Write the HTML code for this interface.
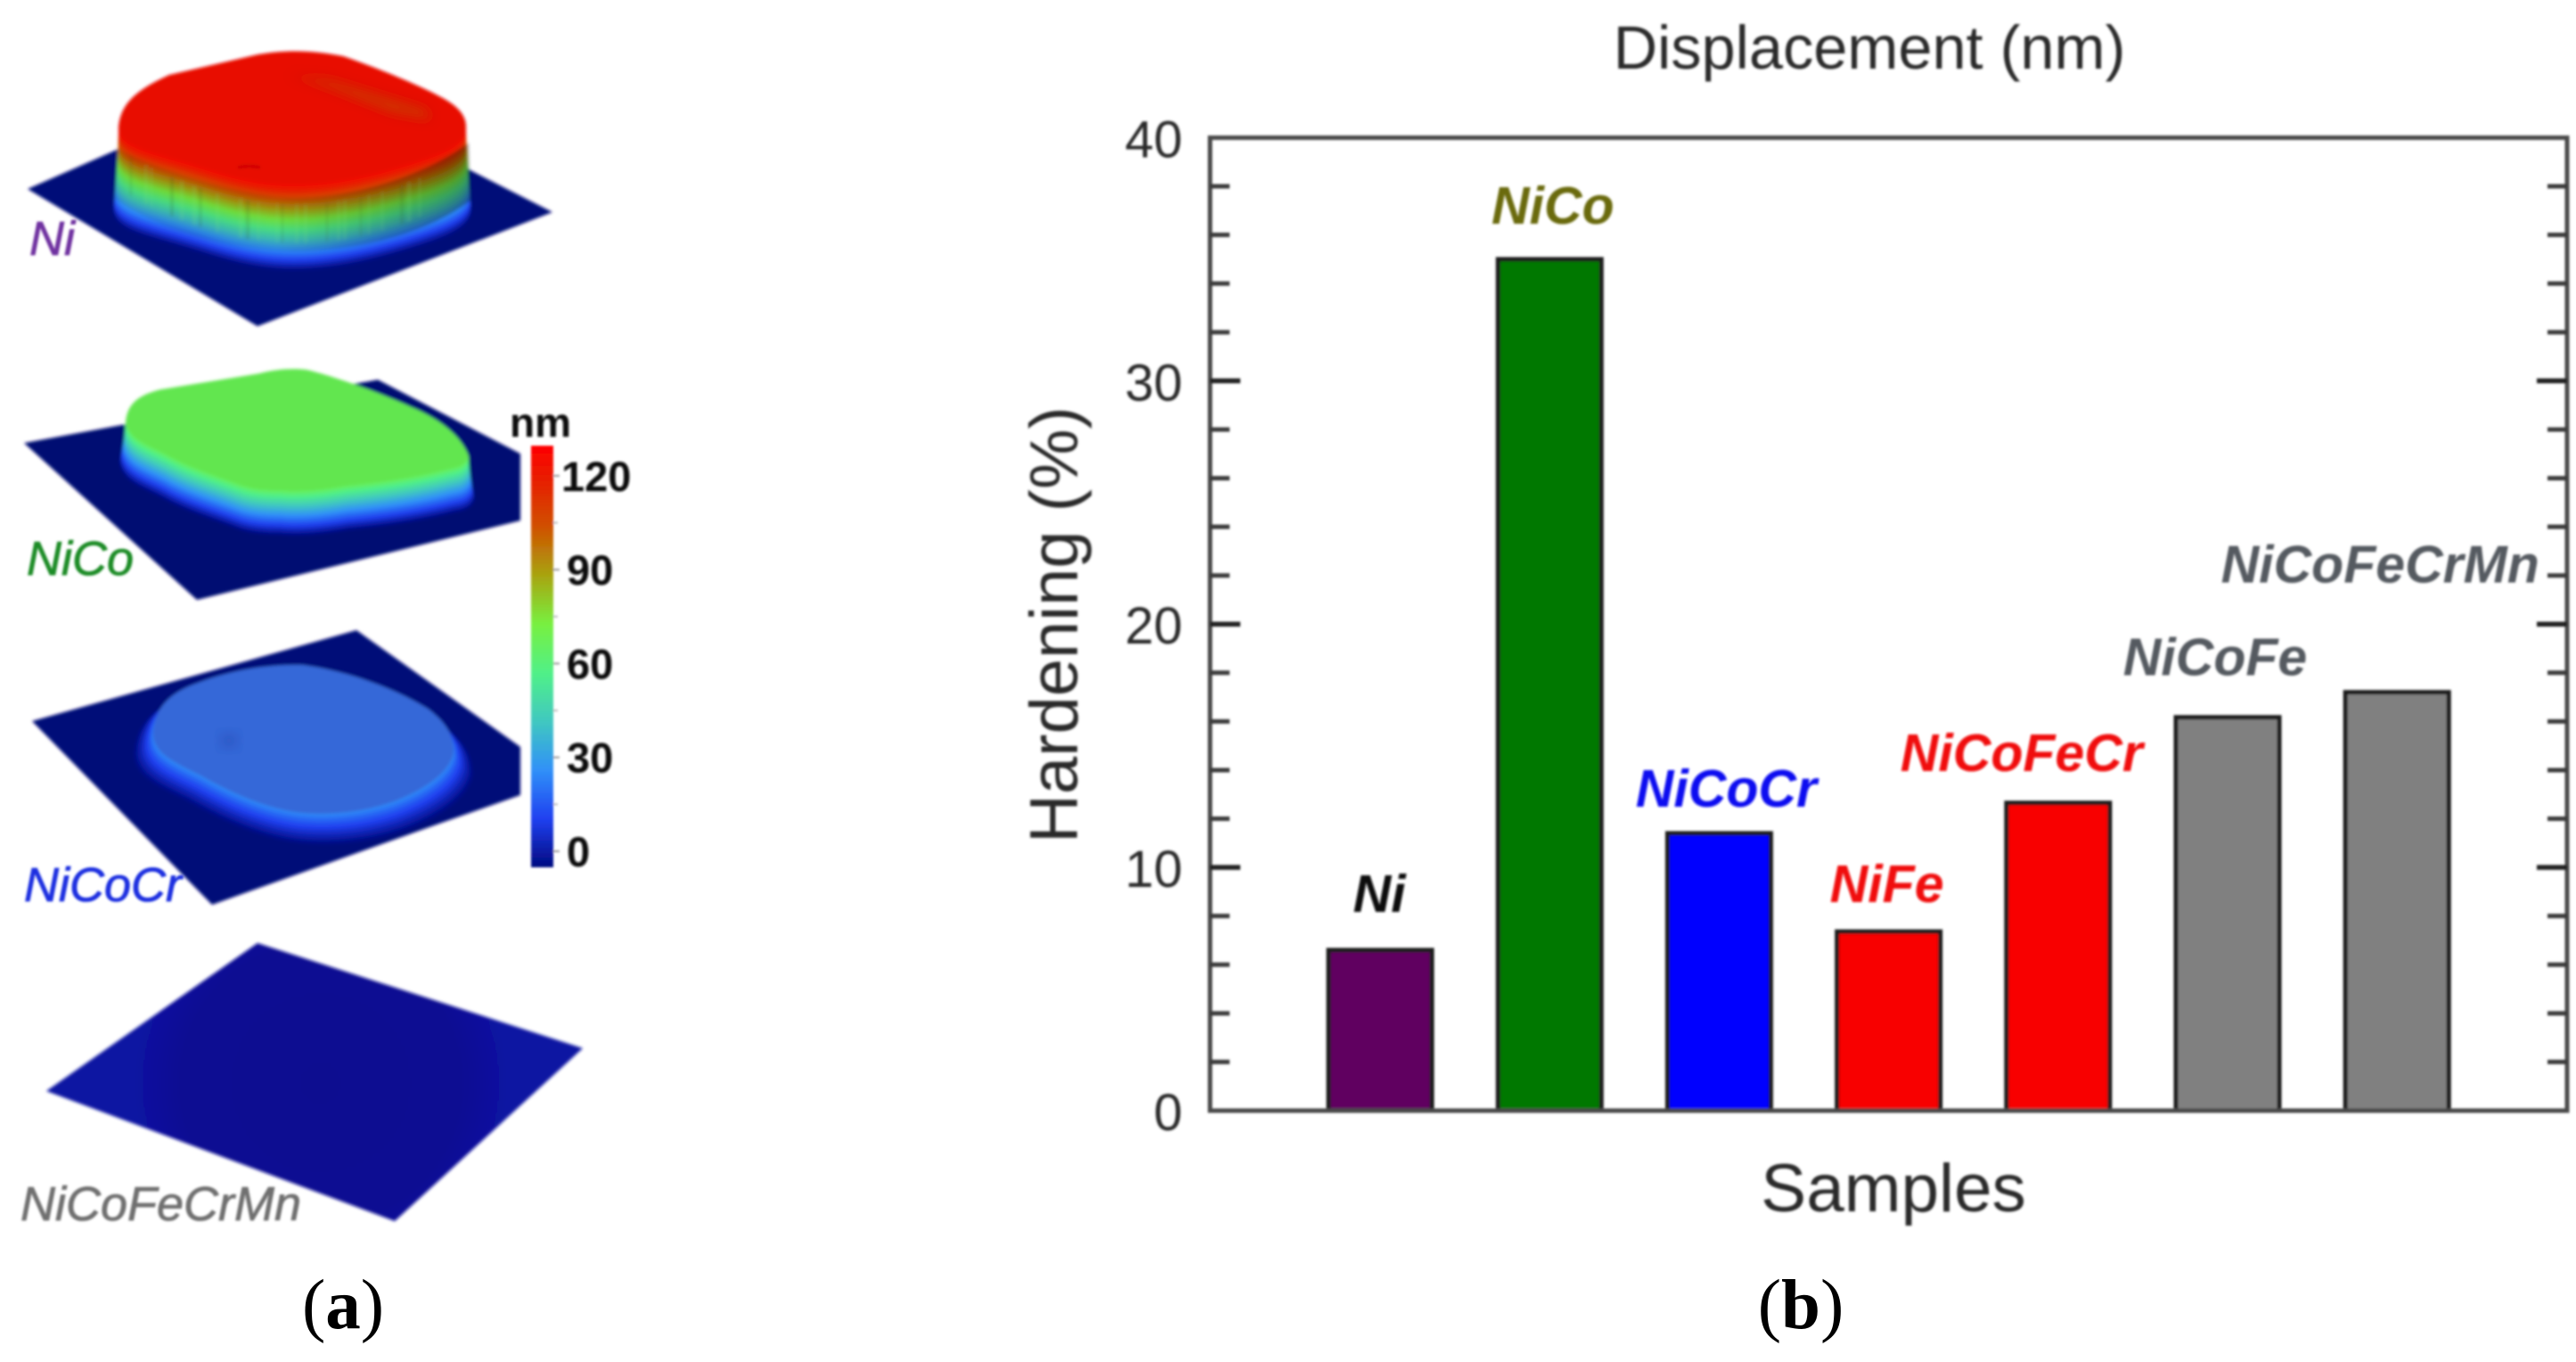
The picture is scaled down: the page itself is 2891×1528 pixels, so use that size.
<!DOCTYPE html>
<html lang="en">
<head>
<meta charset="utf-8">
<title>Displacement maps and hardening of Ni-based alloys</title>
<style>
html,body{margin:0;padding:0;background:#fff;}
svg{display:block;font-family:"Liberation Sans",Arial,sans-serif;}
</style>
</head>
<body>
<svg id="fig" xmlns="http://www.w3.org/2000/svg" width="2891" height="1528" viewBox="0 0 2891 1528">
  <defs>
    <filter id="soft" x="-5%" y="-5%" width="110%" height="110%"><feGaussianBlur stdDeviation="1.4"/></filter>
    <filter id="softer" x="-10%" y="-10%" width="120%" height="120%"><feGaussianBlur stdDeviation="1.9"/></filter>
    <filter id="patch" x="-30%" y="-60%" width="160%" height="220%"><feGaussianBlur stdDeviation="7"/></filter>
    <linearGradient id="cbar" x1="0" y1="1" x2="0" y2="0">
      <stop offset="0" stop-color="#000a80"/>
      <stop offset="0.115" stop-color="#2040f0"/>
      <stop offset="0.23" stop-color="#3090f8"/>
      <stop offset="0.346" stop-color="#40c8c0"/>
      <stop offset="0.46" stop-color="#50f088"/>
      <stop offset="0.577" stop-color="#78f040"/>
      <stop offset="0.692" stop-color="#a8a410"/>
      <stop offset="0.808" stop-color="#d05000"/>
      <stop offset="0.923" stop-color="#e81c00"/>
      <stop offset="1" stop-color="#ff0000"/>
    </linearGradient>
    <linearGradient id="wallShade" x1="130" y1="0" x2="528" y2="0" gradientUnits="userSpaceOnUse">
      <stop offset="0" stop-color="#000" stop-opacity="0.1"/>
      <stop offset="0.45" stop-color="#000" stop-opacity="0.08"/>
      <stop offset="1" stop-color="#000" stop-opacity="0.35"/>
    </linearGradient>
    <radialGradient id="mnIndent" gradientUnits="userSpaceOnUse" cx="360" cy="1215" r="210">
      <stop offset="0" stop-color="#090e90"/>
      <stop offset="0.75" stop-color="#090f92"/>
      <stop offset="1" stop-color="#0a12a2"/>
    </radialGradient>
  </defs>

  <g id="panel-a" filter="url(#softer)">
    <polygon points="31,212 320,85 620,238 289,366" fill="#000c78"/>
    <g id="surf-ni"></g>
    <path d="M130,165 C170,190 280,222 330,222 C400,222 480,195 526,160 L528,225 C480,262 400,282 330,282 C260,282 170,255 128,222Z" fill="url(#wallShade)"/>
    <g id="ni-streaks"></g>
    <g>
      <path d="M322,84 L370,88 L480,122 L485,136 L440,128 L370,100Z" fill="#c05000" opacity="0.6" filter="url(#patch)"/>
      <path d="M267,188 q12,-3 25,0" stroke="#b00000" stroke-width="3" fill="none" opacity="0.6"/>
    </g>

    <polygon points="27,497 130,478 424,426 584,509 584,584 221,673" fill="#000a72"/>
    <g id="surf-nico"></g>

    <polygon points="36,809 400,707 584,838 584,892 490,925 238,1015" fill="#000878"/>
    <g id="surf-nicocr"></g>
    <g>
      <ellipse cx="257" cy="831" rx="10" ry="7" fill="#1a3aa0" opacity="0.45" filter="url(#patch)"/>
    </g>

    <polygon points="289,1058 654,1176 443,1370 52,1224" fill="url(#mnIndent)"/>
  </g>

  <g id="colorbar" filter="url(#soft)">
    <rect x="596" y="500" width="25" height="473" fill="url(#cbar)"/>
    <text x="572" y="490" font-size="46" font-weight="700" fill="#111">nm</text>
  </g>

  <g filter="url(#soft)" font-style="italic" font-size="54" stroke-width="0.8">
    <text x="33" y="286" fill="#7030a0" stroke="#7030a0">Ni</text>
    <text x="30" y="645" fill="#1e8c28" stroke="#1e8c28">NiCo</text>
    <text x="27" y="1011" fill="#1a2ee0" stroke="#1a2ee0">NiCoCr</text>
    <text x="23" y="1369" fill="#707070" stroke="#707070">NiCoFeCrMn</text>
  </g>

  <text x="385" y="1490" text-anchor="middle" font-family="'Liberation Serif',serif" font-size="79" fill="#000">(<tspan font-weight="700">a</tspan>)</text>
  <text x="2021" y="1490" text-anchor="middle" font-family="'Liberation Serif',serif" font-size="79" fill="#000">(<tspan font-weight="700">b</tspan>)</text>

  <g id="chart" filter="url(#soft)">
    <text x="2098" y="77" text-anchor="middle" font-size="68.5" fill="#2a2a2a">Displacement (nm)</text>
    <text x="2125" y="1359" text-anchor="middle" font-size="76.5" fill="#2a2a2a">Samples</text>
    <text transform="translate(1209,701) rotate(-90)" text-anchor="middle" font-size="76" fill="#2a2a2a">Hardening (%)</text>
    <g id="bars"></g>
    <rect x="1358" y="154.5" width="1523" height="1091.5" fill="none" stroke="#4a4a4a" stroke-width="5"/>
    <g id="ticks"></g>
    <g id="labels"></g>
  </g>
</svg>
<script>
// Chart data
const categories = ["Ni", "NiCo", "NiCoCr", "NiFe", "NiCoFeCr", "NiCoFe", "NiCoFeCrMn"];
const hardening = [6.6, 35.0, 11.4, 7.36, 12.65, 16.17, 17.2];
const majorTicks = [0, 10, 20, 30, 40];
const minorTicks = [2, 4, 6, 8, 12, 14, 16, 18, 22, 24, 26, 28, 32, 34, 36, 38];
const colorbarMajor = [0, 30, 60, 90, 120];
const colorbarMinor = [15, 45, 75, 105];

// Styles and layout (separate from the data)
const barFills = ["#600060", "#007800", "#0000ff", "#f80000", "#f80000", "#808080", "#808080"];
const labelFills = ["#111111", "#6b6b10", "#1010f0", "#f00808", "#f00808", "#555a60", "#555a60"];
const labelShiftX = [-1, 3.5, 8, -2, -41, -14, -19];
const labelGap = [43, 40, 30, 33, 36, 47, 123];
const streakGaps = [9, 17, 6, 23, 11, 14, 7, 19, 26, 8, 12, 21, 6, 16, 10, 24, 13, 7, 18, 9, 15, 22, 8, 12];

const NS = "http://www.w3.org/2000/svg";
function mk(tag, parent, attrs) {
  const el = document.createElementNS(NS, tag);
  for (const k in attrs) el.setAttribute(k, attrs[k]);
  parent.appendChild(el);
  return el;
}

// Axis functions
const yScale = v => 1246 - v * 27.29;
const xScale = i => 1549 + 190.2 * i;
const barWidth = 116;
const cbScale = v => 955 - v * 3.51;

const barsG = document.getElementById("bars");
const labelsG = document.getElementById("labels");
categories.forEach((name, i) => {
  const top = yScale(hardening[i]);
  const bar = mk("rect", barsG, {
    x: xScale(i) - barWidth / 2, y: top, width: barWidth, height: yScale(0) - top,
    fill: barFills[i], stroke: "#1e1e1e", "stroke-width": 5
  });
  
  
  const label = mk("text", labelsG, {
    x: xScale(i) + labelShiftX[i], y: top - labelGap[i], "text-anchor": "middle",
    "font-size": 59, "font-weight": 700, "font-style": "italic", fill: labelFills[i]
  });
  label.textContent = name;
  
  
});

const ticksG = document.getElementById("ticks");
function sideTicks(v, len, width, colour) {
  const y = yScale(v);
  const a = mk("line", ticksG, { x1: 1358, x2: 1358 + len, y1: y, y2: y, stroke: colour, "stroke-width": width });
  
  
  const b = mk("line", ticksG, { x1: 2881, x2: 2881 - len, y1: y, y2: y, stroke: colour, "stroke-width": width });
  
  
}
majorTicks.forEach(v => {
  if (v > 0 && v < 40) sideTicks(v, 34, 5.5, "#222");
  const t = mk("text", ticksG, { x: 1327, y: yScale(v) + 22, "text-anchor": "end", "font-size": 58, fill: "#2a2a2a" });
  t.textContent = v;
  
  
});
minorTicks.forEach(v => sideTicks(v, 22, 5, "#3a3a3a"));

// Colour map
const cmStops = [[0,[0,10,128]],[15,[32,64,240]],[30,[48,144,248]],[45,[64,200,192]],[60,[80,240,136]],[75,[120,240,64]],[90,[168,164,16]],[105,[208,80,0]],[120,[232,28,0]],[130,[245,0,0]]];
function cmap(v) {
  for (let i = 1; i < cmStops.length; i++) {
    if (v <= cmStops[i][0]) {
      const a = cmStops[i - 1], b = cmStops[i], t = (v - a[0]) / (b[0] - a[0]);
      const c = a[1].map((x, k) => Math.round(x + (b[1][k] - x) * t));
      return "rgb(" + c.join(",") + ")";
    }
  }
  return "rgb(245,0,0)";
}

// Colour bar ticks
const cbG = document.getElementById("colorbar");
colorbarMajor.forEach(v => {
  const tick = mk("line", cbG, { x1: 621, x2: 628, y1: cbScale(v), y2: cbScale(v), stroke: "#999", "stroke-width": 2 });
  
  
  const t = mk("text", cbG, { x: v >= 100 ? 630 : 636, y: cbScale(v) + 17, "font-size": 47, "font-weight": 700, fill: "#111" });
  t.textContent = v;
  
  
});
colorbarMinor.forEach(v => {
  const tick = mk("line", cbG, { x1: 621, x2: 626, y1: cbScale(v), y2: cbScale(v), stroke: "#bbb", "stroke-width": 2 });
  
  
});

// Extruded surfaces: stacked copies of the plateau outline, coloured by height
function extrude(id, d, cx, cy, height, drop, flare, topFill) {
  const g = document.getElementById(id);
  const steps = 40;
  for (let s = steps; s > 0; s--) {
    const t = s / steps;
    const k = 1 + flare * Math.pow(t, 1.6);
    const p = mk("path", g, {
      d: d, fill: cmap(height * (1 - t)),
      transform: "translate(" + cx + "," + (cy + drop * t) + ") scale(" + k + ") translate(" + (-cx) + "," + (-cy) + ")"
    });
    
    
  }
  const top = mk("path", g, { d: d, fill: topFill });
  
  
}
extrude("surf-ni",
  "M133,143 C135,118 150,102 190,84 L290,61 C320,56 350,56 385,63 C420,75 470,95 497,110 C515,120 523,130 523,142 C523,160 500,170 470,180 C430,193 380,207 330,207 C295,207 265,200 225,187 C170,170 135,165 133,143Z",
  328, 135, 130, 95, 0.03, "#e80800");
extrude("surf-nico",
  "M141,473 C143,455 152,444 180,437 L291,419 C310,414 330,413 345,415 C375,422 430,442 460,456 C490,468 518,488 526,512 C522,522 515,524 504,526 C470,535 430,541 388,545 C360,550 335,552 315,550 C295,550 280,548 267,543 C240,533 215,525 194,514 C170,500 145,495 141,473Z",
  334, 482, 70, 48, 0.035, "#62e650");
extrude("surf-nicocr",
  "M172,820 C175,790 195,775 225,765 C260,752 300,745 340,746 C385,752 440,770 480,795 C500,810 510,825 509,845 C505,865 480,885 440,900 C410,910 375,915 339,912 C300,908 260,890 225,870 C195,855 170,845 172,820Z",
  340, 830, 30, 24, 0.13, "#3568d8");

// Faint, irregular vertical streaks on the tall Ni wall
const streaksG = document.getElementById("ni-streaks");
let streakX = 138;
streakGaps.forEach((gap, i) => {
  streakX += gap;
  const top = 207 - Math.pow((streakX - 333) / 200, 2) * 62;
  const line = mk("line", streaksG, {
    x1: streakX, x2: streakX, y1: top + 22, y2: top + 66,
    stroke: (i % 3 === 0 ? "#305020" : "#80e880"), "stroke-width": 2 + (gap % 3), opacity: 0.16
  });
  
  
});
</script>
</body>
</html>
